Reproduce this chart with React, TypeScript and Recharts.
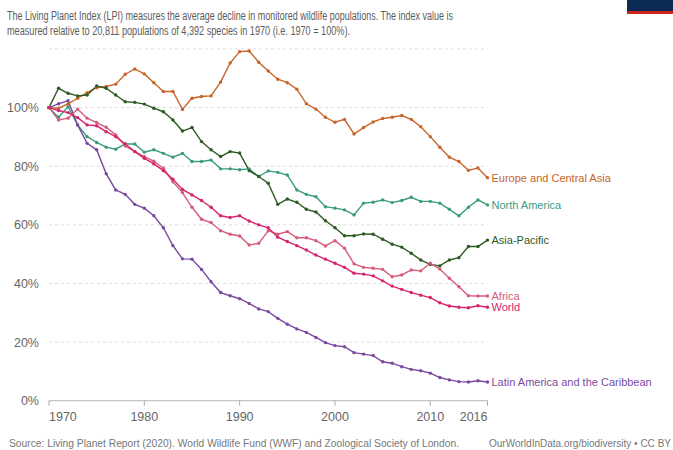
import React from "react";
import { LineChart, Line, XAxis, YAxis, CartesianGrid } from "recharts";

const years = [
  1970, 1971, 1972, 1973, 1974, 1975, 1976, 1977, 1978, 1979,
  1980, 1981, 1982, 1983, 1984, 1985, 1986, 1987, 1988, 1989,
  1990, 1991, 1992, 1993, 1994, 1995, 1996, 1997, 1998, 1999,
  2000, 2001, 2002, 2003, 2004, 2005, 2006, 2007, 2008, 2009,
  2010, 2011, 2012, 2013, 2014, 2015, 2016,
];

const europe = [
  100, 99.8, 101.3, 103.2, 105.1, 106.8, 107.2, 108, 111.4, 113.2,
  111.5, 108.5, 105.5, 105.5, 99.4, 103.2, 103.8, 104, 108.7, 115.2,
  119.1, 119.3, 115.5, 112.5, 109.7, 108.5, 106.3, 101.3, 99.5, 96.7,
  95, 96, 91, 93.2, 95.1, 96.3, 96.7, 97.3, 96, 93.5,
  90.1, 86.5, 83.1, 81.6, 78.6, 79.4, 76.1,
];
const northAmerica = [
  100, 96.7, 100.3, 94.1, 90.1, 88.1, 86.5, 85.8, 87.6, 87.6,
  84.8, 85.6, 84.4, 83.1, 84.4, 81.6, 81.6, 82.1, 79.1, 79.1,
  78.8, 79.1, 76.5, 78.4, 77.9, 77, 71.9, 70.4, 69.6, 66.2,
  65.7, 65.1, 63.4, 67.4, 67.7, 68.5, 67.6, 68.3, 69.4, 68,
  68, 67.4, 65.3, 63.1, 66, 68.5, 66.8,
];
const asiaPacific = [
  100, 106.6, 104.9, 104, 104.3, 107.4, 106.6, 104.3, 102, 101.8,
  101.2, 99.8, 98.6, 95.8, 92, 93.2, 88.4, 85.6, 83.3, 85,
  84.5, 78.5, 76.5, 74.2, 67, 68.8, 67.7, 65.3, 64.4, 61.4,
  59, 56.3, 56.3, 56.9, 56.8, 55.1, 53.4, 52.4, 50.3, 48,
  46.5, 46, 48, 48.8, 52.6, 52.6, 54.8,
];
const africa = [
  100, 95.8, 96.4, 99.5, 96.4, 94.9, 93.3, 90.7, 86.9, 85,
  83.3, 81.7, 79.3, 74.7, 71, 66, 61.9, 60.8, 58, 56.8,
  56.2, 53.1, 53.7, 58, 56.8, 57.7, 55.6, 55.6, 54.6, 52.8,
  54.6, 52, 46.7, 45.5, 45.2, 44.8, 42.3, 42.9, 44.6, 44.3,
  46.9, 44.9, 41.8, 38.9, 35.8, 35.7, 35.7,
];
const world = [
  100, 99, 98.3, 96.6, 94.1, 93.8, 91.8, 90.1, 87.6, 85,
  82.7, 80.8, 78.5, 75.6, 72.1, 70.2, 68.3, 66, 63.1, 62.5,
  63.1, 61.3, 60, 59, 55.8, 54.3, 52.9, 51.4, 49.7, 48.3,
  46.9, 45.5, 43.5, 43.2, 42.6, 40.9, 39.1, 38, 36.9, 36,
  35.2, 33.4, 32.3, 31.9, 31.7, 32.4, 31.9,
];
const latinAmerica = [
  100, 101.3, 102.4, 94.1, 87.8, 85.6, 77.4, 71.9, 70.4, 67,
  65.7, 63.1, 59, 52.9, 48.4, 48.3, 44.8, 40.6, 36.9, 35.8,
  34.8, 33.2, 31.3, 30.4, 28.1, 26.1, 24.5, 23.3, 21.6, 19.8,
  18.8, 18.4, 16.4, 15.9, 15.4, 13.3, 12.8, 11.6, 10.7, 10.2,
  9.4, 7.9, 7.1, 6.5, 6.4, 6.8, 6.4,
];

const xTicks = [1970, 1980, 1990, 2000, 2010, 2016];
const yTicks = [0, 20, 40, 60, 80, 100];

const subtitle1 =
  "The Living Planet Index (LPI) measures the average decline in monitored wildlife populations. The index value is";
const subtitle2 =
  "measured relative to 20,811 populations of 4,392 species in 1970 (i.e. 1970 = 100%).";
const sourceText =
  "Source: Living Planet Report (2020). World Wildlife Fund (WWF) and Zoological Society of London.";
const creditText = "OurWorldInData.org/biodiversity \u2022 CC BY";

const series = [
  { key: "europe", name: "Europe and Central Asia", values: europe, color: "#c8642a" },
  { key: "northAmerica", name: "North America", values: northAmerica, color: "#3a9b7d" },
  { key: "asiaPacific", name: "Asia-Pacific", values: asiaPacific, color: "#2e5a24" },
  { key: "latinAmerica", name: "Latin America and the Caribbean", values: latinAmerica, color: "#7a4a9f" },
  { key: "africa", name: "Africa", values: africa, color: "#d65d7a" },
  { key: "world", name: "World", values: world, color: "#d6246e" },
];

const data = years.map((year, i) => {
  const row: Record<string, number> = { year };
  series.forEach((s) => {
    row[s.key] = s.values[i];
  });
  return row;
});

const FONT = "'Liberation Sans', Arial, Helvetica, sans-serif";

const XTick = (props: any) => {
  const { x, y, payload } = props;
  const v = payload.value;
  let anchor: "start" | "middle" | "end" = "middle";
  if (v === 1970) anchor = "start";
  if (v === 2016) anchor = "end";
  return (
    <text x={x} y={y + 13} textAnchor={anchor} fill="#666" fontSize={12.5} fontFamily={FONT}>
      {v}
    </text>
  );
};

const makeEndLabel = (name: string, color: string, last: number) => (props: any) => {
  const { x, y, index } = props;
  if (index !== last) return null;
  return (
    <text x={x + 4} y={y + 4} fill={color} fontSize={11} fontFamily={FONT}>
      {name}
    </text>
  );
};

export default function App() {
  const last = years.length - 1;
  return (
    <div style={{ position: "absolute", left: 0, top: 0, width: 673, height: 450, background: "#fff", overflow: "hidden" }}>
      <svg width={673} height={450} style={{ position: "absolute", left: 0, top: 0 }}>
        <rect x={627} y={0} width={46} height={11} fill="#0c2b52" />
        <rect x={627} y={11} width={46} height={3} fill="#ce261e" />
        <text x={7} y={20} fontSize={12} fill="#5b5b5b" fontFamily={FONT} textLength={446} lengthAdjust="spacingAndGlyphs">
          {subtitle1}
        </text>
        <text x={7} y={35} fontSize={12} fill="#5b5b5b" fontFamily={FONT} textLength={343} lengthAdjust="spacingAndGlyphs">
          {subtitle2}
        </text>
        <text x={9} y={447} fontSize={10} fill="#777" fontFamily={FONT} textLength={450} lengthAdjust="spacingAndGlyphs">
          {sourceText}
        </text>
        <text x={489} y={447} fontSize={10} fill="#777" fontFamily={FONT} textLength={182} lengthAdjust="spacingAndGlyphs">
          {creditText}
        </text>
      </svg>
      <div style={{ position: "absolute", left: 0, top: 0 }}>
        <LineChart width={673} height={450} data={data} margin={{ top: 49, right: 185.5, bottom: 24.3, left: 0 }}>
          <CartesianGrid vertical={false} stroke="#dcdcdc" strokeDasharray="3 3" />
          <XAxis
            dataKey="year"
            type="number"
            domain={[1970, 2016]}
            ticks={xTicks}
            tick={<XTick />}
            tickLine={{ stroke: "#aaa" }}
            tickSize={5}
            axisLine={{ stroke: "#bbb" }}
            height={25}
            interval={0}
          />
          <YAxis
            type="number"
            domain={[0, 120]}
            ticks={yTicks}
            width={49}
            axisLine={false}
            tickLine={false}
            tickFormatter={(v: number) => `${v}%`}
            tick={{ fill: "#666", fontSize: 12.5, fontFamily: FONT }}
            tickMargin={4}
          />
          {series.map((s) => (
            <Line
              key={s.key}
              dataKey={s.key}
              name={s.name}
              stroke={s.color}
              strokeWidth={1.4}
              dot={{ r: 1.7, fill: s.color, stroke: s.color, strokeWidth: 0 }}
              isAnimationActive={false}
              label={makeEndLabel(s.name, s.color, last)}
            />
          ))}
        </LineChart>
      </div>
    </div>
  );
}
